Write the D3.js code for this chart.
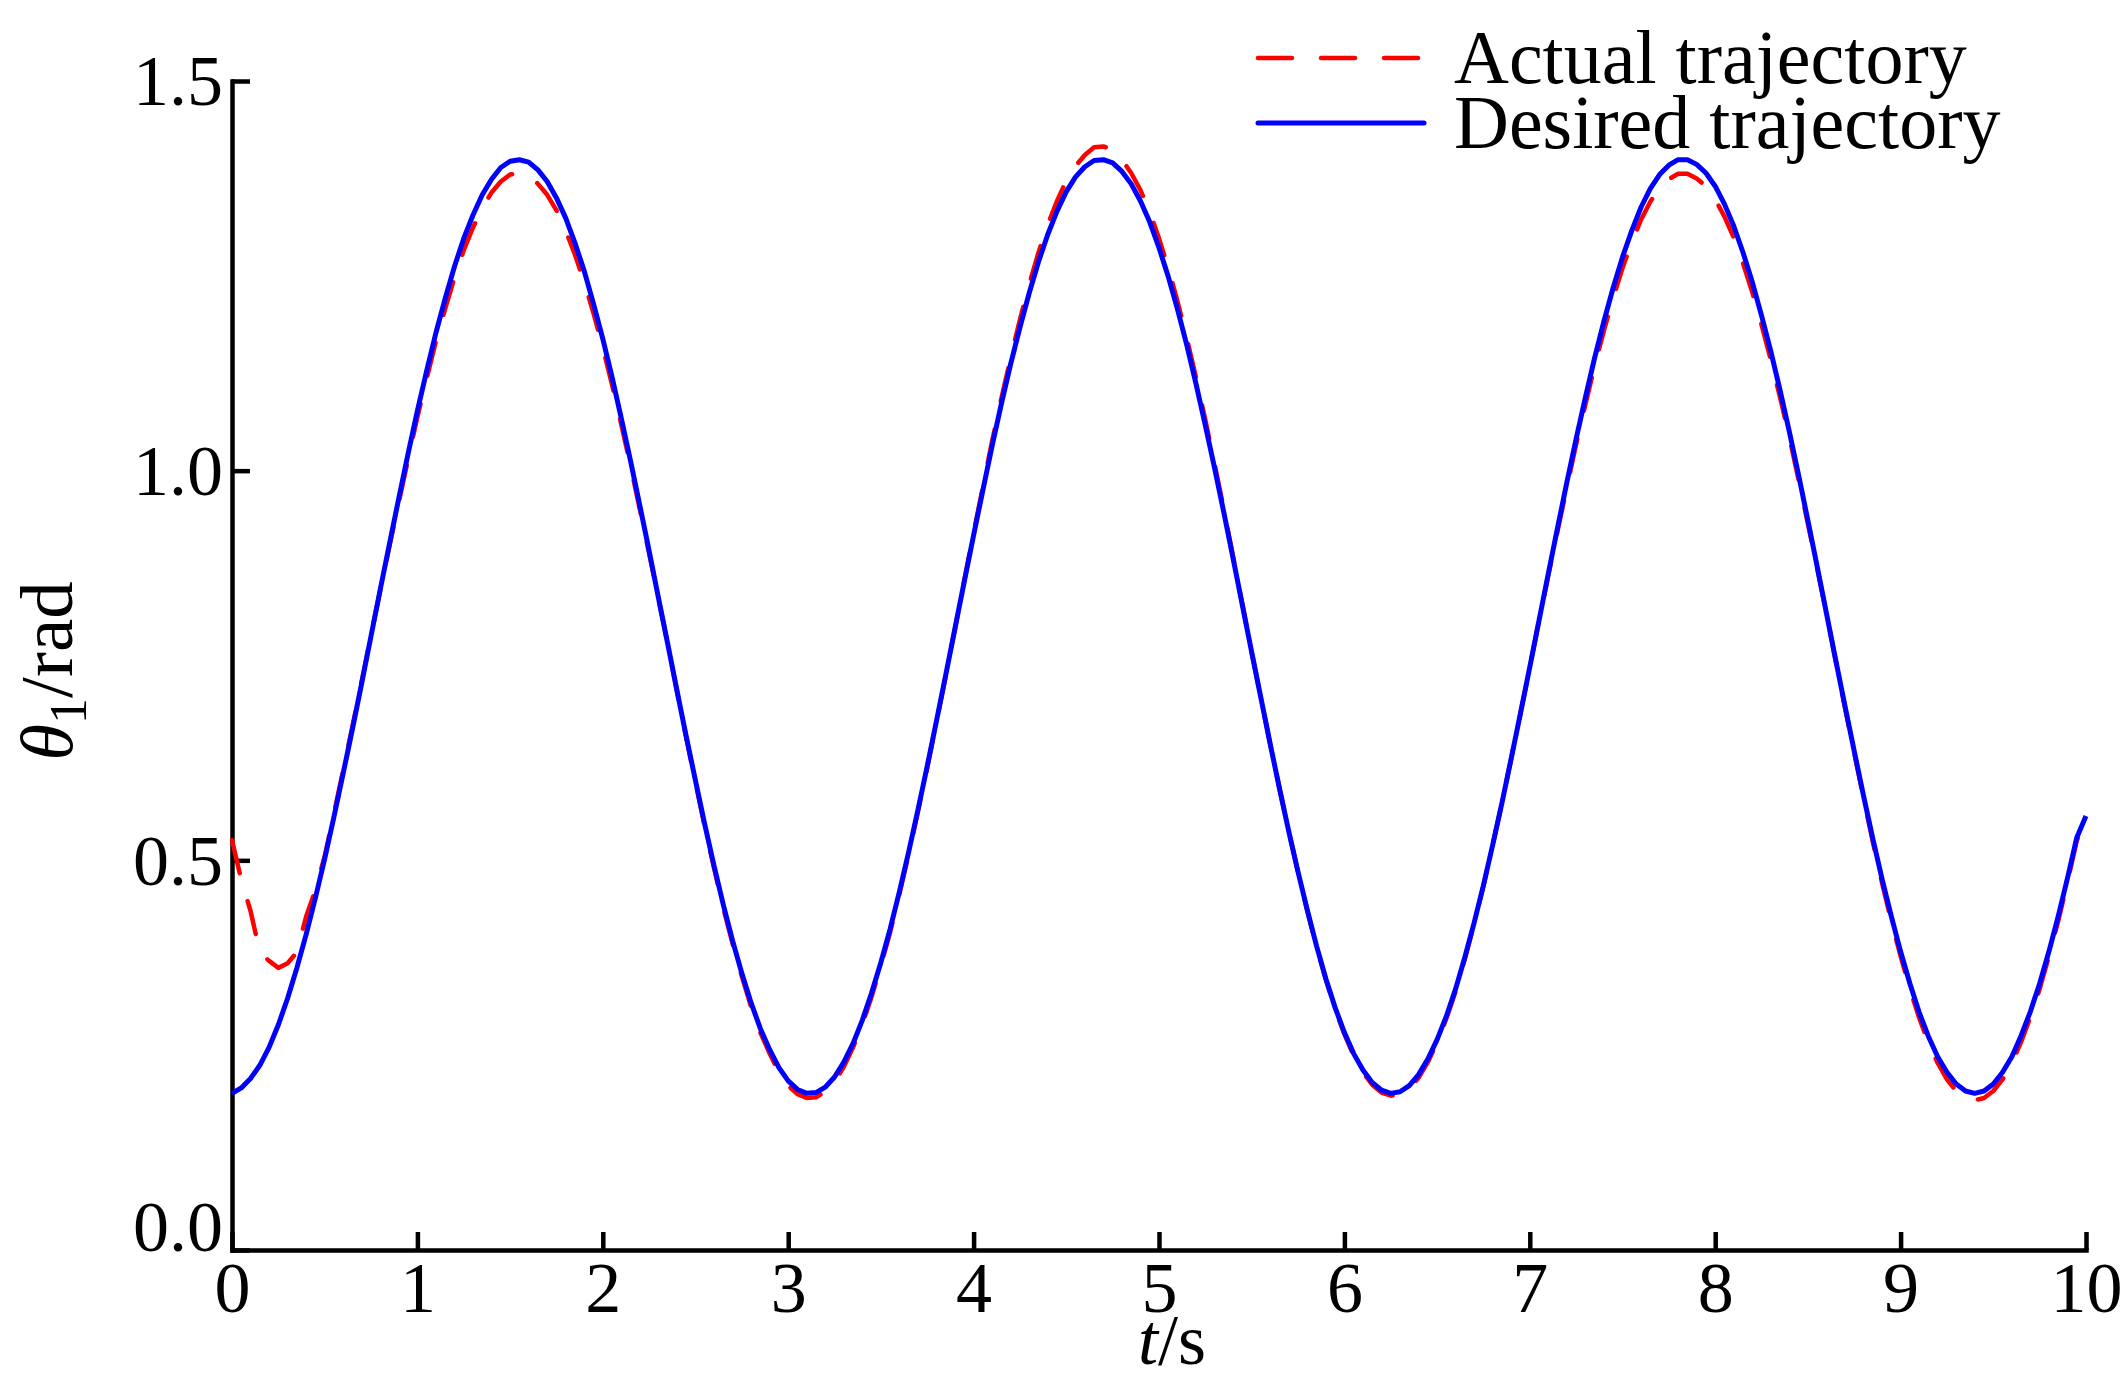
<!DOCTYPE html>
<html><head><meta charset="utf-8">
<script src="https://cdn.jsdelivr.net/npm/d3@7"></script>
<style>
html,body{margin:0;padding:0;background:#fff;}
svg{display:block;}
text{font-family:"Liberation Serif","Times New Roman",serif;fill:#000;}
</style></head><body>
<svg id="chart" width="2126" height="1391"></svg>
<script>
// ---- data ----
const xTickValues = [0,1,2,3,4,5,6,7,8,9,10];
const yTickValues = [0, 0.5, 1.0, 1.5];
const yTickLabels = ["0.0", "0.5", "1.0", "1.5"];
const seriesNames = ["Actual trajectory", "Desired trajectory"];
const timeStep = 0.05; // s

const desired = [
0.201,0.208,0.220,0.237,0.260,0.289,0.323,0.362,0.405,0.452,
0.502,0.556,0.612,0.669,0.728,0.788,0.848,0.907,0.965,1.022,
1.077,1.128,1.177,1.221,1.262,1.298,1.328,1.354,1.374,1.389,
1.397,1.399,1.396,1.386,1.371,1.350,1.324,1.292,1.256,1.214,
1.169,1.120,1.067,1.012,0.955,0.897,0.837,0.778,0.718,0.659,
0.602,0.546,0.493,0.443,0.397,0.355,0.317,0.284,0.257,0.234,
0.217,0.206,0.201,0.202,0.209,0.222,0.241,0.265,0.295,0.330,
0.369,0.412,0.460,0.511,0.565,0.621,0.679,0.738,0.798,0.858,
0.917,0.975,1.032,1.086,1.137,1.184,1.228,1.268,1.303,1.333,
1.358,1.377,1.390,1.398,1.399,1.395,1.384,1.368,1.346,1.319,
1.286,1.249,1.207,1.161,1.111,1.058,1.003,0.946,0.887,0.827,
0.767,0.708,0.649,0.592,0.537,0.485,0.436,0.390,0.348,0.311,
0.279,0.252,0.231,0.215,0.205,0.201,0.203,0.211,0.225,0.245,
0.270,0.300,0.335,0.376,0.420,0.468,0.520,0.574,0.631,0.689,
0.748,0.808,0.868,0.927,0.985,1.041,1.094,1.145,1.192,1.235,
1.274,1.308,1.338,1.362,1.380,1.392,1.399,1.399,1.393,1.382,
1.365,1.342,1.314,1.280,1.242,1.199,1.153,1.103,1.050,0.994,
0.936,0.877,0.817,0.757,0.698,0.640,0.583,0.528,0.476,0.428,
0.383,0.342,0.305,0.274,0.248,0.228,0.213,0.204,0.201,0.204,
0.213,0.228,0.248,0.275,0.306,0.342,0.383,0.428,0.477,0.529,
0.557];

const actual = [
0.526,0.475,0.435,0.382,0.371,0.362,0.368,0.382,0.428,0.462,
0.505,0.560,0.616,0.672,0.730,0.789,0.847,0.904,0.960,1.015,
1.069,1.118,1.166,1.208,1.248,1.283,1.312,1.337,1.357,1.371,
1.380,1.382,1.380,1.368,1.354,1.334,1.308,1.277,1.242,1.202,
1.158,1.110,1.059,1.006,0.950,0.894,0.836,0.778,0.717,0.658,
0.600,0.543,0.490,0.439,0.393,0.351,0.312,0.279,0.252,0.228,
0.211,0.200,0.195,0.196,0.203,0.216,0.235,0.260,0.290,0.325,
0.365,0.408,0.457,0.508,0.563,0.619,0.678,0.737,0.798,0.859,
0.920,0.979,1.038,1.093,1.145,1.194,1.239,1.280,1.316,1.346,
1.372,1.391,1.405,1.415,1.416,1.412,1.399,1.382,1.360,1.332,
1.298,1.260,1.217,1.170,1.119,1.065,1.008,0.950,0.889,0.828,
0.767,0.708,0.649,0.592,0.537,0.485,0.435,0.389,0.347,0.309,
0.277,0.249,0.228,0.212,0.202,0.198,0.199,0.207,0.221,0.241,
0.266,0.297,0.332,0.374,0.419,0.467,0.520,0.574,0.631,0.689,
0.748,0.808,0.866,0.923,0.979,1.034,1.085,1.135,1.180,1.222,
1.260,1.293,1.322,1.345,1.363,1.374,1.381,1.381,1.375,1.365,
1.348,1.326,1.299,1.266,1.229,1.187,1.142,1.094,1.043,0.988,
0.932,0.875,0.817,0.756,0.696,0.638,0.580,0.524,0.471,0.422,
0.377,0.335,0.298,0.266,0.240,0.219,0.204,0.195,0.192,0.195,
0.204,0.219,0.240,0.267,0.299,0.335,0.377,0.422,0.472,0.525,
0.553];

const time = desired.map((_, i) => +(i * timeStep).toFixed(2));

// ---- layout ----
const W = 2126, H = 1391;
const plot = {left: 232, right: 2086, top: 81, bottom: 1250};
const svg = d3.select("#chart");
svg.append("rect").attr("width", W).attr("height", H).attr("fill", "#fff");

const x = d3.scaleLinear().domain([0, 10]).range([plot.left, plot.right]);
const y = d3.scaleLinear().domain([0, 1.5]).range([plot.bottom, plot.top]);

const axisW = 4.5, tickLen = 18, tickFont = 72;

// x axis
const gx = svg.append("g").attr("transform", `translate(0,${plot.bottom})`)
  .call(d3.axisBottom(x).tickValues(xTickValues).tickFormat(d3.format("d"))
        .tickSizeInner(-tickLen).tickSizeOuter(0).tickPadding(10));
gx.select(".domain").attr("stroke", "#000").attr("stroke-width", axisW).attr("stroke-linecap", "square");
gx.selectAll(".tick line").attr("stroke", "#000").attr("stroke-width", axisW);
gx.selectAll(".tick text").attr("font-size", tickFont).attr("font-family", "Liberation Serif")
  .attr("y", 62).attr("dy", null);

// y axis
const gy = svg.append("g").attr("transform", `translate(${plot.left},0)`)
  .call(d3.axisLeft(y).tickValues(yTickValues).tickFormat((d, i) => yTickLabels[i])
        .tickSizeInner(-tickLen).tickSizeOuter(0).tickPadding(9));
gy.select(".domain").attr("stroke", "#000").attr("stroke-width", axisW).attr("stroke-linecap", "square");
gy.selectAll(".tick line").attr("stroke", "#000").attr("stroke-width", axisW);
gy.selectAll(".tick text").attr("font-size", tickFont).attr("font-family", "Liberation Serif")
  .attr("dy", (d) => d === 0 ? "-0.0em" : "0.33em");

// axis titles
const yt = svg.append("text").attr("transform", "translate(72,671) rotate(-90)")
  .attr("text-anchor", "middle").attr("font-size", 75);
yt.append("tspan").attr("font-style", "italic").text("θ");
yt.append("tspan").attr("font-size", 52).attr("dy", 14).text("1");
yt.append("tspan").attr("dy", -14).text("/rad");

const xt = svg.append("text").attr("x", 1172).attr("y", 1364)
  .attr("text-anchor", "middle").attr("font-size", 72);
xt.append("tspan").attr("font-style", "italic").text("t");
xt.append("tspan").text("/s");

// lines
const lineA = d3.line().x((d, i) => x(time[i])).y(d => y(d));
svg.append("path").datum(actual).attr("d", lineA)
  .attr("fill", "none").attr("stroke", "#ff0000").attr("stroke-width", 4.5)
  .attr("stroke-dasharray", "34,29").attr("stroke-linecap", "round").attr("stroke-linejoin", "round");
svg.append("path").datum(desired).attr("d", lineA)
  .attr("fill", "none").attr("stroke", "#0000ff").attr("stroke-width", 5)
  .attr("stroke-linejoin", "round");

// legend
const legend = svg.append("g");
const legendItems = [
  {name: seriesNames[0], color: "#ff0000", dash: "34,29", y: 58, x2: 1419},
  {name: seriesNames[1], color: "#0000ff", dash: null, y: 123, x2: 1424}
];
legendItems.forEach((it, i) => {
  legend.append("line").attr("x1", 1258).attr("x2", it.x2).attr("y1", it.y).attr("y2", it.y)
    .attr("stroke", it.color).attr("stroke-width", i === 0 ? 4.5 : 5)
    .attr("stroke-dasharray", it.dash).attr("stroke-linecap", "round");
  legend.append("text").attr("x", 1454).attr("y", it.y + 25)
    .attr("font-size", 76).text(it.name);
});
</script>
</body></html>
